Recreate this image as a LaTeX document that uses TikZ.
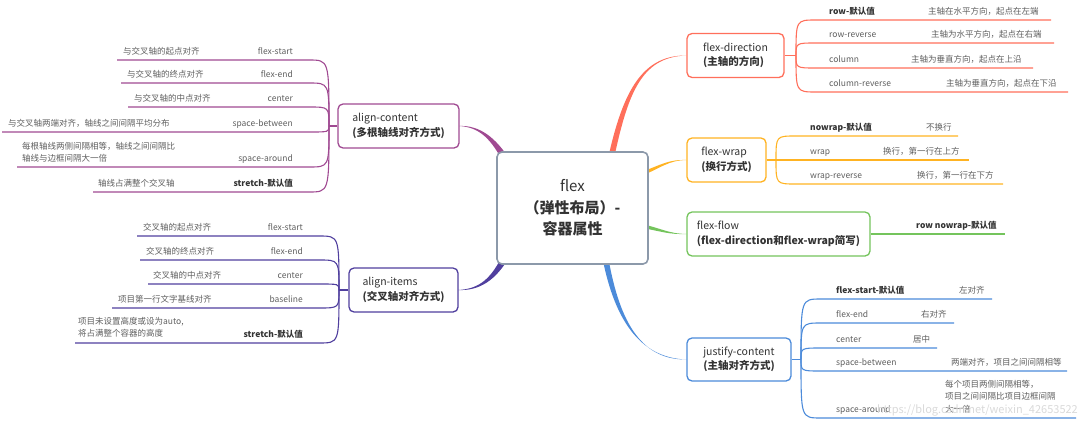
\documentclass[tikz,border=0pt]{standalone}
\usepackage{fontspec}
\setmainfont{Noto Sans CJK SC}
\usetikzlibrary{positioning,backgrounds}
\definecolor{cdir}{HTML}{FF6F5B}
\definecolor{cwrap}{HTML}{FFB322}
\definecolor{cflow}{HTML}{74C45C}
\definecolor{cjust}{HTML}{4C8BDA}
\definecolor{cac}{HTML}{A04A92}
\definecolor{cai}{HTML}{503F9E}
\definecolor{croot}{HTML}{8C99AA}
\definecolor{ctxt}{HTML}{333333}
\definecolor{csub}{HTML}{5E5E5E}
\newcommand\dft[1]{\textcolor{ctxt}{\textbf{#1}}}
\tikzset{
  root/.style={draw=croot, fill=white, rounded corners=5pt, line width=1.6pt,
    align=center, text=ctxt, font=\fontsize{15}{21.5}\selectfont,
    minimum width=151pt, minimum height=112pt, inner sep=0pt},
  topic/.style={draw, fill=white, rounded corners=5pt, line width=1.3pt,
    align=left, text=ctxt, font=\fontsize{10.5}{14.5}\selectfont,
    minimum height=44pt, inner sep=0pt},
  lbl/.style={font=\fontsize{8.5}{11}\selectfont, text=csub, inner sep=0pt},
  dsc/.style={font=\fontsize{8.5}{12.5}\selectfont, text=csub, inner sep=0pt, align=left},
  twig/.style={line width=1.1pt},
}
\begin{document}
\begin{tikzpicture}[x=1pt, y=-1pt]
    \useasboundingbox (0,0) rectangle (1080,426);
    % central topic
    \node[root] (flex) at (572.5,208) {flex\\\textbf{（弹性布局）-}\\\textbf{容器属性}};
    % main topics
    \node[topic, draw=cdir, minimum width=97pt] (dir) at (735.5,55.5) {flex-direction\\\textbf{(主轴的方向)}};
    \node[topic, draw=cwrap, minimum width=79pt] (wrap) at (726.5,160) {flex-wrap\\\textbf{(换行方式)}};
    \node[topic, draw=cflow, minimum width=183pt] (flow) at (778.5,234) {flex-flow\\\textbf{(flex-direction和flex-wrap简写)}};
    \node[topic, draw=cjust, minimum width=104pt, minimum height=43pt] (just) at (739,359.5) {justify-content\\\textbf{(主轴对齐方式)}};
    \node[topic, draw=cac, minimum width=121pt] (ac) at (398.5,126) {align-content\\\textbf{(多根轴线对齐方式)}};
    \node[topic, draw=cai, minimum width=109pt] (ai) at (403.5,290) {align-items\\\textbf{(交叉轴对齐方式)}};
    % tapered branches
    \begin{scope}[on background layer]
        \fill[cdir] (606,168) .. controls (621,95) and (640,55) .. (dir.west) .. controls (640,57) and (627,95) .. (612,168) -- cycle;
        \fill[cwrap] (640,172.5) .. controls (662,164.5) and (668,159.5) .. (wrap.west) .. controls (668,160.5) and (662,167.5) .. (640,176.5) -- cycle;
        \fill[cflow] (640,223.5) .. controls (662,228.5) and (668,233.5) .. (flow.west) .. controls (668,234.5) and (662,231.5) .. (640,227.5) -- cycle;
        \fill[cjust] (601,250) .. controls (613,320) and (640,358) .. (just.west) .. controls (640,360) and (618,320) .. (607,250) -- cycle;
        \fill[cac] (510,160) .. controls (496,138) and (480,125) .. (ac.west -| 459,0) .. controls (480,127) and (492,140) .. (504,164) -- cycle;
        \fill[cai] (510,256) .. controls (496,280) and (480,291) .. (ai.west -| 458,0) .. controls (480,289) and (492,278) .. (504,252) -- cycle;
    \end{scope}
    % flex-direction
    \coordinate (dirfan) at (796,55.5);
    \draw[twig, cdir] (dir.east) -- (dirfan);
    \foreach \y/\xe/\lab/\dx/\desc [count=\i] in {20/1051/\dft{row-默认值}/928/主轴在水平方向，起点在左端,
        43/1054/row-reverse/931/主轴为水平方向，起点在右端,
        68/1033/column/911/主轴为垂直方向，起点在上沿,
        92/1068/column-reverse/946/主轴为垂直方向，起点在下沿} {
        \draw[twig, cdir] (dirfan) .. controls (796,\y) .. (816,\y) -- (\xe,\y);
        \node[lbl, anchor=base west] (dirl\i) at (829,\y-6) {\lab};
        \node[dsc, anchor=base west] (dird\i) at (\dx,\y-6) {\desc};
    }
    % flex-wrap
    \coordinate (wrapfan) at (776,160);
    \draw[twig, cwrap] (wrap.east) -- (wrapfan);
    \foreach \y/\xe/\lab/\dx/\desc [count=\i] in {136/958/\dft{nowrap-默认值}/926/不换行,
        160/969/wrap/883/换行，第一行在上方,
        184/1003/wrap-reverse/917/换行，第一行在下方} {
        \draw[twig, cwrap] (wrapfan) .. controls (776,\y) .. (796,\y) -- (\xe,\y);
        \node[lbl, anchor=base west] (wrapl\i) at (810,\y-6) {\lab};
        \node[dsc, anchor=base west] (wrapd\i) at (\dx,\y-6) {\desc};
    }
    % flex-flow
    \coordinate (flowend) at (1005,234);
    \draw[twig, cflow] (flow.east) -- (flowend);
    \node[lbl, anchor=base west] (flowl) at (916,228) {\dft{row nowrap-默认值}};
    % justify-content
    \coordinate (justfan) at (801,359.5);
    \draw[twig, cjust] (just.east) -- (justfan);
    \foreach \y/\xe/\lab/\dx/\desc [count=\i] in {299/992/\dft{flex-start-默认值}/959/左对齐,
        323/954/flex-end/921/右对齐,
        348/937/center/913/居中,
        371/1067/space-between/951/两端对齐，项目之间间隔相等} {
        \draw[twig, cjust] (justfan) .. controls (801,\y) .. (821,\y) -- (\xe,\y);
        \node[lbl, anchor=base west] (justl\i) at (836,\y-6) {\lab};
        \node[dsc, anchor=base west] (justd\i) at (\dx,\y-6) {\desc};
    }
    \draw[twig, cjust] (justfan) .. controls (801,418) .. (821,418) -- (1076,418);
    \node[lbl, anchor=base west] (justl5) at (836,412) {space-around};
    \node[dsc, anchor=north west] (justd5) at (945,380) {每个项目两侧间隔相等，\\项目之间间隔比项目边框间隔\\大一倍};
    % align-content
    \coordinate (acfan) at (329,126);
    \draw[twig, cac] (ac.west) -- (acfan);
    \foreach \y/\xs/\lab/\dx/\desc [count=\i] in {60/117/flex-start/123/与交叉轴的起点对齐,
        83/121/flex-end/127/与交叉轴的终点对齐,
        107/128/center/134/与交叉轴的中点对齐,
        132/2/space-between/8/与交叉轴两端对齐，轴线之间间隔平均分布,
        192/93/\dft{stretch-默认值}/98/轴线占满整个交叉轴} {
        \draw[twig, cac] (acfan) .. controls (329,\y) .. (309,\y) -- (\xs,\y);
        \node[lbl, anchor=base east] (acl\i) at (293,\y-6) {\lab};
        \node[dsc, anchor=base west] (acd\i) at (\dx,\y-6) {\desc};
    }
    \draw[twig, cac] (acfan) .. controls (329,167) .. (309,167) -- (17,167);
    \node[lbl, anchor=base east] (acl6) at (293,161) {space-around};
    \node[dsc, anchor=north west, font=\fontsize{8.5}{12}\selectfont] (acd6) at (22,142) {每根轴线两侧间隔相等，轴线之间间隔比\\轴线与边框间隔大一倍};
    % align-items
    \coordinate (aifan) at (339,290);
    \draw[twig, cai] (ai.west) -- (aifan);
    \foreach \y/\xs/\lab/\dx/\desc [count=\i] in {236/137/flex-start/143/交叉轴的起点对齐,
        260/140/flex-end/146/交叉轴的终点对齐,
        284/148/center/153/交叉轴的中点对齐,
        308/112/baseline/118/项目第一行文字基线对齐} {
        \draw[twig, cai] (aifan) .. controls (339,\y) .. (319,\y) -- (\xs,\y);
        \node[lbl, anchor=base east] (ail\i) at (303,\y-6) {\lab};
        \node[dsc, anchor=base west] (aid\i) at (\dx,\y-6) {\desc};
    }
    \draw[twig, cai] (aifan) .. controls (339,343) .. (319,343) -- (75,343);
    \node[lbl, anchor=base east] (ail5) at (303,337) {\dft{stretch-默认值}};
    \node[dsc, anchor=north west, font=\fontsize{8.5}{12}\selectfont] (aid5) at (78,317) {项目未设置高度或设为auto,\\将占满整个容器的高度};
    % watermark
    \node[font=\fontsize{11}{13}\selectfont, text=gray!30, anchor=east, inner sep=0pt] (mark) at (1078,410) {https://blog.csdn.net/weixin\_42653522};
\end{tikzpicture}
\end{document}
